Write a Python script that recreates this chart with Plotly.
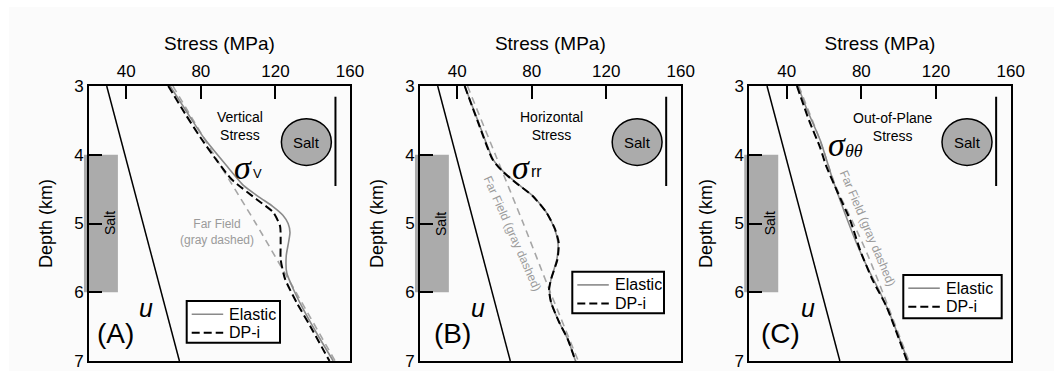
import plotly.graph_objects as go

# ---------------- data ----------------
# pore pressure u (MPa) vs depth (km), same in all three panels
u_depth = [3.0, 7.0]
u_stress = [29.5, 68.5]

# (A) vertical stress
ffA_depth = [3.0, 4.0, 5.0, 6.0, 7.0]
ffA_stress = [65.0, 87.0, 109.5, 131.0, 152.0]
elA_depth = [3.0, 3.4, 3.75, 4.15, 4.45, 4.62, 4.75, 4.88, 5.0, 5.13, 5.28, 5.47, 5.72, 5.96, 6.25, 6.6, 7.0]
elA_stress = [63.5, 73.0, 81.5, 93.5, 103.0, 111.5, 118.5, 124.0, 126.8, 127.8, 127.0, 125.8, 126.1, 129.7, 135.0, 142.2, 151.0]
dpA_depth = [3.0, 3.4, 3.75, 4.1, 4.36, 4.65, 4.84, 5.04, 5.28, 5.52, 5.81, 6.15, 6.49, 7.0]
dpA_stress = [62.5, 71.5, 79.8, 89.0, 96.6, 110.0, 118.9, 122.5, 122.8, 122.8, 125.2, 131.4, 138.6, 149.0]

# (B) horizontal (radial) stress
ffB_depth = [3.0, 4.0, 5.0, 6.0, 7.0]
ffB_stress = [45.5, 60.5, 75.5, 90.0, 105.0]
elB_depth = [3.0, 3.5, 4.07, 4.24, 4.41, 4.6, 4.84, 5.08, 5.28, 5.52, 5.81, 5.96, 6.15, 6.44, 6.68, 7.0]
elB_stress = [44.0, 51.0, 59.3, 64.6, 71.8, 80.7, 87.9, 92.3, 94.1, 93.5, 90.4, 89.5, 90.4, 94.8, 99.3, 103.5]
dpB_depth = [3.0, 3.5, 4.07, 4.24, 4.41, 4.6, 4.84, 5.08, 5.28, 5.52, 5.81, 5.96, 6.15, 6.44, 6.68, 7.0]
dpB_stress = [44.0, 50.8, 59.0, 64.3, 71.6, 80.5, 87.9, 92.5, 94.5, 93.8, 90.4, 89.3, 90.4, 94.8, 99.3, 103.5]

# (C) out-of-plane stress
ffC_depth = [3.0, 3.8, 4.44, 5.0, 5.43, 5.97, 7.0]
ffC_stress = [46.5, 58.0, 66.0, 75.8, 83.0, 91.0, 105.5]
elC_depth = [3.0, 3.35, 3.79, 4.32, 4.8, 5.29, 5.68, 6.0, 6.3, 7.0]
elC_stress = [46.0, 51.0, 58.0, 64.2, 70.5, 77.5, 84.0, 90.0, 95.0, 105.0]
dpC_depth = [3.0, 3.5, 3.9, 4.15, 4.56, 4.95, 5.4, 5.82, 6.21, 7.0]
dpC_stress = [45.5, 52.0, 58.0, 61.0, 67.5, 74.0, 79.5, 86.0, 93.5, 104.5]

x_ticks = [40, 80, 120, 160]
y_ticks = [3, 4, 5, 6, 7]
x_range = [20, 160]
y_range = [7, 3]
salt_top, salt_base = 4.0, 6.0
legend_names = ["Elastic", "DP-i"]

panels = [
    dict(tag="(A)", title="Vertical<br>Stress",
         ff=(ffA_depth, ffA_stress), el=(elA_depth, elA_stress), dp=(dpA_depth, dpA_stress)),
    dict(tag="(B)", title="Horizontal<br>Stress",
         ff=(ffB_depth, ffB_stress), el=(elB_depth, elB_stress), dp=(dpB_depth, dpB_stress)),
    dict(tag="(C)", title="Out-of-Plane<br>Stress",
         ff=(ffC_depth, ffC_stress), el=(elC_depth, elC_stress), dp=(dpC_depth, dpC_stress)),
]

# ---------------- layout geometry ----------------
W, H = 1054, 371
x_domains = [[89 / W, 350 / W], [420 / W, 680.7 / W], [749.3 / W, 1010.7 / W]]
y_domain = [1 - 361 / H, 1 - 86 / H]
# legend boxes (left, top, right, bottom) in pixels
legend_boxes = [(186.7, 301, 280, 342.7), (572.3, 271.7, 664, 313.3), (903.3, 275, 1001.7, 318.3)]

SANS = "Liberation Sans, Arial, Helvetica, sans-serif"
SERIF = "Liberation Serif, Times New Roman, serif"
GRAY_LINE = "#8a8a8a"
GRAY_DASH = "#a6a6a6"
GRAY_FILL = "#ababab"
GRAY_TEXT = "#9a9a9a"
EL_STYLE = dict(color=GRAY_LINE, width=1.6)
DP_STYLE = dict(color="black", width=2, dash="8px,4px")


def px(v):
    return v / W


def py(v):
    return 1 - v / H


def paper_x(i, v):
    d0, d1 = x_domains[i]
    return d0 + (v - x_range[0]) / (x_range[1] - x_range[0]) * (d1 - d0)


fig = go.Figure()
annotations = []
shapes = []

# light page tone
shapes.append(dict(type="rect", xref="paper", yref="paper", x0=9 / W, x1=1, y0=0, y1=1 - 7 / H,
                   fillcolor="#fbfbfb", line=dict(width=0), layer="below"))

for i, p in enumerate(panels):
    n = "" if i == 0 else str(i + 1)
    xa, ya = "x" + n, "y" + n

    fig.add_trace(go.Scatter(x=u_stress, y=u_depth, mode="lines", xaxis=xa, yaxis=ya,
                             line=dict(color="black", width=1.5), showlegend=False, hoverinfo="skip"))
    fig.add_trace(go.Scatter(x=p["ff"][1], y=p["ff"][0], mode="lines", xaxis=xa, yaxis=ya,
                             line=dict(color=GRAY_DASH, width=1.6, dash="7px,5px", shape="spline", smoothing=0.6),
                             showlegend=False, name="Far Field"))
    fig.add_trace(go.Scatter(x=p["el"][1], y=p["el"][0], mode="lines", xaxis=xa, yaxis=ya,
                             line=dict(EL_STYLE, shape="spline", smoothing=0.6),
                             name=legend_names[0], showlegend=False))
    fig.add_trace(go.Scatter(x=p["dp"][1], y=p["dp"][0], mode="lines", xaxis=xa, yaxis=ya,
                             line=dict(DP_STYLE, shape="spline", smoothing=0.6),
                             name=legend_names[1], showlegend=False))

    axis_common = dict(showline=True, linewidth=2, linecolor="black", mirror=True, automargin=False,
                       ticks="inside", ticklen=13, tickwidth=2, tickcolor="black",
                       showgrid=False, zeroline=False, tickfont=dict(family=SANS, size=17, color="black"))
    fig.update_layout({
        ("xaxis" + n): dict(axis_common, domain=x_domains[i], range=x_range, side="top",
                            anchor=ya, tickvals=x_ticks,
                            title=dict(text="Stress (MPa)", font=dict(family=SANS, size=19, color="black"),
                                       standoff=7)),
        ("yaxis" + n): dict(axis_common, domain=y_domain, range=y_range, anchor=xa, tickvals=y_ticks,
                            title=dict(text="Depth (km)", font=dict(family=SANS, size=18, color="black"),
                                       standoff=17)),
    })

    # salt layer bar on the depth axis
    shapes.append(dict(type="rect", xref="paper", yref=ya, x0=paper_x(i, 17.3), x1=paper_x(i, 35.5),
                       y0=salt_top, y1=salt_base, fillcolor=GRAY_FILL, line=dict(width=0), layer="below"))
    annotations.append(dict(xref=xa, yref=ya, x=31, y=5.0, text="Salt", textangle=-90, showarrow=False,
                            font=dict(family=SANS, size=14, color="black")))

    # salt body sketch with the profile line
    shapes.append(dict(type="circle", xref=xa, yref=ya, x0=136.6 - 13.4, x1=136.6 + 13.4,
                       y0=3.815 - 0.34, y1=3.815 + 0.34, fillcolor=GRAY_FILL,
                       line=dict(color="black", width=1.5)))
    shapes.append(dict(type="line", xref=xa, yref=ya, x0=152.2, x1=152.2, y0=3.156, y1=4.455,
                       line=dict(color="black", width=2)))
    annotations.append(dict(xref=xa, yref=ya, x=136.6, y=3.815, text="Salt", showarrow=False,
                            font=dict(family=SANS, size=15, color="black")))

    # panel tag and pore pressure label
    annotations.append(dict(xref=xa, yref=ya, x=[34.2, 37.3, 36.8][i], y=6.6, text=p["tag"],
                            showarrow=False, font=dict(family=SANS, size=28, color="black")))
    annotations.append(dict(xref=xa, yref=ya, x=[50.7, 51.1, 51.6][i], y=6.23, text="<i>u</i>",
                            showarrow=False, font=dict(family=SANS, size=25, color="black")))

    # stress component title
    annotations.append(dict(xref=xa, yref=ya, x=[101.0, 90.5, 97.1][i], y=[3.58, 3.58, 3.6][i],
                            text=p["title"], showarrow=False,
                            font=dict(family=SANS, size=14, color="black")))

    # legend box with line samples
    l, t, r, b = legend_boxes[i]
    shapes.append(dict(type="rect", xref="paper", yref="paper", x0=px(l), x1=px(r), y0=py(b), y1=py(t),
                       fillcolor="white", line=dict(color="black", width=2)))
    for k, style in enumerate([EL_STYLE, DP_STYLE]):
        row = t + 13.2 + k * 18.6
        shapes.append(dict(type="line", xref="paper", yref="paper", x0=px(l + 5), x1=px(l + 36.5),
                           y0=py(row), y1=py(row), line=style))
        annotations.append(dict(xref="paper", yref="paper", x=px(l + 40.5), y=py(row), xanchor="left",
                                yanchor="middle", text=legend_names[k], showarrow=False,
                                font=dict(family=SANS, size=16, color="black")))

# sigma symbols with subscripts
sig = [("x", "y", 102.6, 4.18, 110.3, 4.27, "V", SANS, 13),
       ("x2", "y2", 74.5, 4.18, 82.3, 4.25, "rr", SANS, 16),
       ("x3", "y3", 67.2, 3.85, 76.1, 3.95, "<i>θθ</i>", SERIF, 18)]
for xa, ya, sx, sy, bx, by, sub, fam, fs in sig:
    annotations.append(dict(xref=xa, yref=ya, x=sx, y=sy, text="<i>σ</i>", showarrow=False,
                            font=dict(family=SERIF, size=34, color="black")))
    annotations.append(dict(xref=xa, yref=ya, x=bx, y=by, text=sub, showarrow=False,
                            font=dict(family=fam, size=fs, color="black")))

# far-field labels
annotations.append(dict(xref="x", yref="y", x=88.6, y=5.12, text="Far Field<br>(gray dashed)",
                        showarrow=False, font=dict(family=SANS, size=12, color=GRAY_TEXT)))
annotations.append(dict(xref="x2", yref="y2", x=69.8, y=5.15, text="Far Field (gray dashed)",
                        textangle=66, showarrow=False, font=dict(family=SANS, size=12, color=GRAY_TEXT)))
annotations.append(dict(xref="x3", yref="y3", x=83.2, y=5.07, text="Far Field (gray dashed)",
                        textangle=67, showarrow=False, font=dict(family=SANS, size=12, color=GRAY_TEXT)))

fig.update_layout(
    width=W, height=H, margin=dict(l=0, r=0, t=0, b=0, autoexpand=False),
    paper_bgcolor="white", plot_bgcolor="rgba(0,0,0,0)",
    shapes=shapes, annotations=annotations,
)

fig.write_html("out.html")
